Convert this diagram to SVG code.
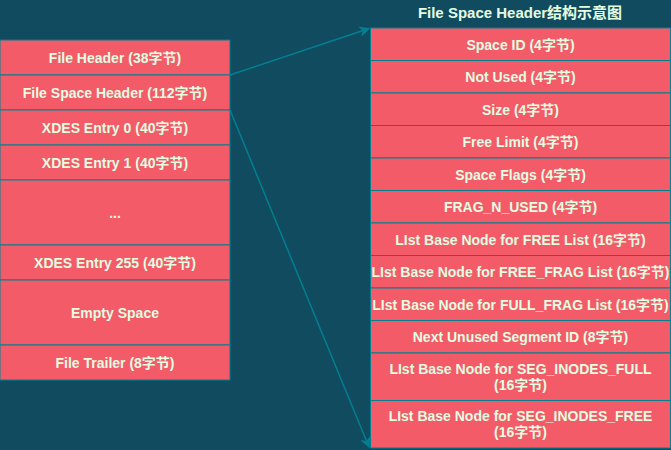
<svg xmlns="http://www.w3.org/2000/svg" width="671" height="450" viewBox="0 0 671 450">
<defs>
<style>
.n rect{fill:#F45B69;stroke:#028090;stroke-width:1}
.n text,.t{fill:#E4FDE1;font-family:"Liberation Sans","Noto Sans CJK SC",sans-serif;font-weight:bold;font-size:14px;text-anchor:middle;dominant-baseline:central}
.t{font-size:15px}
.c{stroke:#028090;stroke-width:1.5;fill:none}
</style>
<marker id="ah" viewBox="0 0 10 10" refX="9" refY="5" markerWidth="11" markerHeight="11" markerUnits="userSpaceOnUse" orient="auto">
<path d="M0,0 L10,5 L0,10 L3,5 Z" fill="#028090"/>
</marker>
</defs>
<rect width="671" height="450" fill="#114B5F"/>
<text class="t" x="520" y="12">File Space Header结构示意图</text>
<g id="left">
<g id="l1" class="n"><rect x="0" y="40" width="230" height="35"/><text x="115" y="58">File Header (38字节)</text></g>
<g id="l2" class="n"><rect x="0" y="75" width="230" height="35"/><text x="115" y="93">File Space Header (112字节)</text></g>
<g id="l3" class="n"><rect x="0" y="110" width="230" height="35"/><text x="115" y="128">XDES Entry 0 (40字节)</text></g>
<g id="l4" class="n"><rect x="0" y="145" width="230" height="35"/><text x="115" y="163">XDES Entry 1 (40字节)</text></g>
<g id="l5" class="n"><rect x="0" y="180" width="230" height="65"/><text x="115" y="213">...</text></g>
<g id="l6" class="n"><rect x="0" y="245" width="230" height="35"/><text x="115" y="263">XDES Entry 255 (40字节)</text></g>
<g id="l7" class="n"><rect x="0" y="280" width="230" height="65"/><text x="115" y="313">Empty Space</text></g>
<g id="l8" class="n"><rect x="0" y="345" width="230" height="35"/><text x="115" y="363">File Trailer (8字节)</text></g>
</g>
<g id="right">
<g id="r1" class="n"><rect x="370.5" y="28" width="300" height="32.5"/><text x="520.5" y="44.5">Space ID (4字节)</text></g>
<g id="r2" class="n"><rect x="370.5" y="60.5" width="300" height="32.5"/><text x="520.5" y="77">Not Used (4字节)</text></g>
<g id="r3" class="n"><rect x="370.5" y="93" width="300" height="32.5"/><text x="520.5" y="109.5">Size (4字节)</text></g>
<g id="r4" class="n"><rect x="370.5" y="125.5" width="300" height="32.5"/><text x="520.5" y="142">Free Limit (4字节)</text></g>
<g id="r5" class="n"><rect x="370.5" y="158" width="300" height="32.5"/><text x="520.5" y="174.5">Space Flags (4字节)</text></g>
<g id="r6" class="n"><rect x="370.5" y="190.5" width="300" height="32.5"/><text x="520.5" y="207">FRAG_N_USED (4字节)</text></g>
<g id="r7" class="n"><rect x="370.5" y="223" width="300" height="32.5"/><text x="520.5" y="239.5">LIst Base Node for FREE List (16字节)</text></g>
<g id="r8" class="n"><rect x="370.5" y="255.5" width="300" height="32.5"/><text x="520.5" y="272">LIst Base Node for FREE_FRAG List (16字节)</text></g>
<g id="r9" class="n"><rect x="370.5" y="288" width="300" height="32.5"/><text x="520.5" y="304.5">LIst Base Node for FULL_FRAG List (16字节)</text></g>
<g id="r10" class="n"><rect x="370.5" y="320.5" width="300" height="32.5"/><text x="520.5" y="337">Next Unused Segment ID (8字节)</text></g>
<g id="r11" class="n"><rect x="370.5" y="353" width="300" height="47.5"/><text x="520.5" y="369">LIst Base Node for SEG_INODES_FULL</text><text x="520.5" y="385">(16字节)</text></g>
<g id="r12" class="n"><rect x="370.5" y="400.5" width="300" height="47.5"/><text x="520.5" y="416">LIst Base Node for SEG_INODES_FREE</text><text x="520.5" y="432">(16字节)</text></g>
</g>
<g id="connectors">
<line class="c" x1="230" y1="75" x2="369" y2="28.5" marker-end="url(#ah)"/>
<line class="c" x1="230" y1="110" x2="369" y2="447" marker-end="url(#ah)"/>
</g>
</svg>
